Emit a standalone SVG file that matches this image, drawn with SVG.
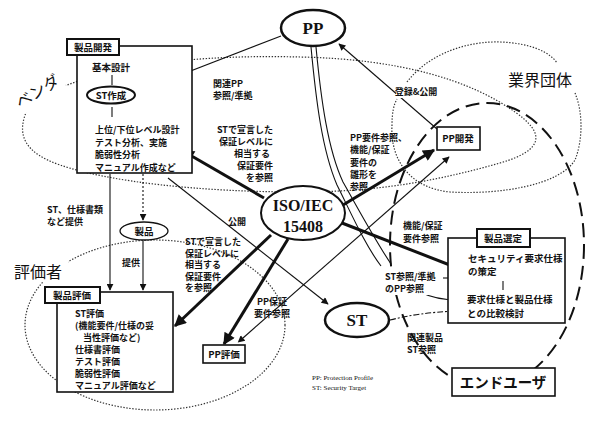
<svg xmlns="http://www.w3.org/2000/svg" width="602" height="425" viewBox="0 0 602 425">
<style>
text{font-family:"Noto Sans CJK JP","Liberation Sans",sans-serif;font-weight:bold;fill:#111}
.j{font-size:9.5px}
.s{font-size:9px}
.big{font-size:16px;font-weight:normal}
text.ser{font-family:"Liberation Serif","Noto Sans CJK JP",serif;font-weight:bold}
text.leg{font-family:"Liberation Serif",serif;font-weight:normal;font-size:7px;fill:#111}
.box{fill:#fff;stroke:#111;stroke-width:1.6}
.lab{fill:#fff;stroke:#111;stroke-width:2}
.dot{fill:none;stroke:#333;stroke-width:1.2;stroke-dasharray:1.4,1.6}
.dash{fill:none;stroke:#111;stroke-width:2;stroke-dasharray:14,7}
.thin{fill:none;stroke:#111;stroke-width:1.1}
.thick{fill:none;stroke:#111;stroke-width:3}
.ell{fill:#fff;stroke:#111}
.bg{fill:#fff}
</style>
<defs>
<marker id="a" viewBox="0 0 10 10" refX="9" refY="5" markerWidth="9" markerHeight="7" orient="auto" markerUnits="userSpaceOnUse"><path d="M0,0 L10,5 L0,10 z" fill="#111"/></marker>
<marker id="as" viewBox="0 0 10 10" refX="0" refY="5" markerWidth="9" markerHeight="7" orient="auto-start-reverse" markerUnits="userSpaceOnUse"><path d="M0,0 L10,5 L0,10 z" fill="#111"/></marker>
<marker id="A" viewBox="0 0 10 10" refX="9" refY="5" markerWidth="15" markerHeight="12" orient="auto" markerUnits="userSpaceOnUse"><path d="M0,0 L10,5 L0,10 z" fill="#111"/></marker>
<marker id="v" viewBox="0 0 10 10" refX="9" refY="5" markerWidth="7" markerHeight="7" orient="auto" markerUnits="userSpaceOnUse"><path d="M0,0 L10,5 L0,10 z" fill="#111"/></marker>
</defs>

<g id="regions">
<path id="vendor" class="dot" d="M62,87 C130,60 220,55 300,57 C400,59 470,80 515,112 C545,133 545,150 500,163 C440,180 380,192 300,192 C200,192 110,182 60,165 C25,153 15,135 28,108"/>
<path id="industry" class="dot" d="M407,82 C430,52 470,41 500,42 C530,43 550,52 557,63 M575,93 C583,112 583,140 575,160 C560,185 500,195 450,192 C410,188 390,160 392,125 C392,112 394,104 397,99"/>
<ellipse id="evaluator" class="dot" cx="155" cy="325" rx="130" ry="85"/>
<ellipse id="enduser-area" class="dash" cx="487" cy="245" rx="97" ry="142"/>
<rect class="bg" x="14" y="74" width="50" height="30" transform="rotate(-30 38 89)"/>
<rect class="bg" x="10" y="260" width="58" height="22"/>
<text class="big" transform="rotate(-32 38 92)" x="38" y="97" text-anchor="middle">ベンダ</text>
<text class="big" x="540" y="86" text-anchor="middle">業界団体</text>
<text class="big" x="38" y="278" text-anchor="middle">評価者</text>
</g>

<g id="connectors">
<line class="thin" x1="281" y1="36" x2="139" y2="91" marker-end="url(#a)"/>
<line class="thin" x1="437" y1="129" x2="339" y2="44" marker-end="url(#a)"/>
<path class="thin" d="M311,47 C316,100 322,150 337,185 C352,215 365,245 381,266"/>
<path class="thin" d="M316,47 C321,100 328,150 343,182 C360,212 375,240 391,264"/>
<line class="thick" x1="264" y1="198" x2="183" y2="151" marker-end="url(#A)"/>
<line class="thick" x1="343" y1="205" x2="434" y2="150" marker-end="url(#A)"/>
<line class="thick" x1="342" y1="223" x2="460" y2="269" marker-end="url(#A)"/>
<line class="thick" x1="288" y1="239" x2="224" y2="344" marker-end="url(#A)"/>
<line class="thick" x1="271" y1="235" x2="175" y2="326" marker-end="url(#A)"/>
<line class="thin" x1="168" y1="178" x2="328" y2="304" marker-end="url(#a)"/>
<line class="thin" x1="243" y1="338" x2="449" y2="157" marker-start="url(#as)" marker-end="url(#a)"/>
<line class="thin" x1="143" y1="174" x2="143" y2="220" stroke-dasharray="2,2" marker-end="url(#v)"/>
<line class="thin" x1="110" y1="174" x2="110" y2="290" marker-end="url(#v)"/>
<line class="thin" x1="143" y1="241" x2="143" y2="290" marker-end="url(#v)"/>
<path class="thin" d="M390,320 C410,315 430,312 458,311" stroke-dasharray="6,2,2,2" marker-end="url(#v)"/>
<path class="thin" d="M420,292 C430,297 440,300 458,300" marker-end="url(#v)"/>
<line class="thin" x1="443" y1="278" x2="458" y2="278" marker-end="url(#v)"/>
<line class="thin" x1="451" y1="272" x2="451" y2="284"/>
<rect class="bg" x="396" y="86" width="40" height="12"/>
<text class="s" x="416" y="95" text-anchor="middle">登録&amp;公開</text>
<text class="s" x="213" y="87">関連PP</text>
<text class="s" x="213" y="99">参照/準拠</text>
<g class="s" text-anchor="end">
<text x="273" y="133">STで宣言した</text>
<text x="273" y="145">保証レベルに</text>
<text x="270" y="157">相当する</text>
<text x="273" y="169">保証要件</text>
<text x="273" y="181">を参照</text>
</g>
<g class="s">
<text x="350" y="141">PP要件参照、</text>
<text x="350" y="153">機能/保証</text>
<text x="350" y="166">要件の</text>
<text x="350" y="178">雛形を</text>
<text x="350" y="190">参照</text>
<text x="403" y="229">機能/保証</text>
<text x="403" y="242">要件参照</text>
<text x="185" y="245">STで宣言した</text>
<text x="185" y="256.5">保証レベルに</text>
<text x="185" y="268">相当する</text>
<text x="185" y="279.5">保証要件</text>
<text x="185" y="291">を参照</text>
<text x="228" y="225">公開</text>
<text x="47" y="213">ST、仕様書類</text>
<text x="47" y="225">など提供</text>
<text x="122" y="266">提供</text>
<text x="407" y="341">関連製品</text>
<text x="407" y="353">ST参照</text>
<text x="272" y="305" text-anchor="middle">PP保証</text>
<text x="272" y="317" text-anchor="middle">要件参照</text>
</g>
<rect class="bg" x="384" y="270" width="56" height="25"/>
<text class="s" x="385" y="280">ST参照/準拠</text>
<text class="s" x="385" y="292">のPP参照</text>
</g>

<g id="pp">
<ellipse class="ell" cx="313" cy="28" rx="32" ry="18" stroke-width="2.5"/>
<text class="ser" x="313" y="34" font-size="17" text-anchor="middle">PP</text>
</g>

<g id="product-dev">
<rect class="box" x="77" y="46" width="115" height="127"/>
<rect class="lab" x="67" y="39" width="52" height="16"/>
<text class="j" x="93" y="51" text-anchor="middle">製品開発</text>
<text class="j" x="111" y="71" text-anchor="middle">基本設計</text>
<line class="thin" x1="112" y1="75" x2="112" y2="85"/>
<g id="st-create">
<ellipse class="ell" cx="111" cy="95" rx="24" ry="8.5" stroke-width="2"/>
<text class="j" x="111" y="99" text-anchor="middle">ST作成</text>
</g>
<line class="thin" x1="112" y1="107" x2="112" y2="117"/>
<g class="s">
<text x="95" y="133">上位/下位レベル設計</text>
<text x="95" y="145.5">テスト分析、実施</text>
<text x="95" y="158">脆弱性分析</text>
<text x="95" y="170.5">マニュアル作成など</text>
</g>
</g>

<g id="iso">
<ellipse class="ell" cx="303" cy="213" rx="42" ry="27" stroke-width="2"/>
<text class="ser" x="303" y="211" font-size="16" text-anchor="middle">ISO/IEC</text>
<text class="ser" x="303" y="232" font-size="16" text-anchor="middle">15408</text>
</g>

<g id="product">
<ellipse class="ell" cx="144" cy="231" rx="24" ry="9" stroke-width="1.3"/>
<text class="j" x="144" y="235" text-anchor="middle">製品</text>
</g>

<g id="product-eval">
<rect class="box" x="57" y="292" width="116" height="100"/>
<rect class="lab" x="45" y="287" width="55" height="16"/>
<text class="j" x="72" y="299" text-anchor="middle">製品評価</text>
<g class="s">
<text x="75" y="317">ST評価</text>
<text x="75" y="329">(機能要件/仕様の妥</text>
<text x="83" y="341">当性評価など)</text>
<text x="75" y="353">仕様書評価</text>
<text x="75" y="365">テスト評価</text>
<text x="75" y="377">脆弱性評価</text>
<text x="75" y="389">マニュアル評価など</text>
</g>
</g>

<g id="pp-eval">
<rect class="box" x="203" y="345" width="42" height="18" stroke-width="2"/>
<text class="j" x="224" y="358" text-anchor="middle">PP評価</text>
</g>

<g id="st">
<ellipse class="ell" cx="357" cy="320" rx="32" ry="17" stroke-width="2.5"/>
<text class="ser" x="357" y="326" font-size="17" text-anchor="middle">ST</text>
</g>

<g id="pp-dev">
<rect class="box" x="437" y="127" width="43" height="23" stroke-width="2"/>
<text class="j" x="458" y="142" text-anchor="middle">PP開発</text>
</g>

<g id="product-select">
<rect class="box" x="448" y="238" width="117" height="85"/>
<rect class="lab" x="477" y="229" width="53" height="18"/>
<text class="j" x="503" y="242" text-anchor="middle">製品選定</text>
<g class="j">
<text x="468" y="262">セキュリティ要求仕様</text>
<text x="468" y="275">の策定</text>
<text x="467" y="303">要求仕様と製品仕様</text>
<text x="467" y="317">との比較検討</text>
</g>
<line class="thin" x1="503" y1="281" x2="503" y2="290"/>
</g>

<g id="enduser">
<rect class="box" x="452" y="368" width="103" height="28" stroke-width="2"/>
<text x="503" y="388" font-size="14.5" font-weight="normal" text-anchor="middle">エンドユーザ</text>
</g>

<g id="legend">
<text class="leg" x="312" y="380">PP: Protection Profile</text>
<text class="leg" x="312" y="390">ST: Security Target</text>
</g>
</svg>
